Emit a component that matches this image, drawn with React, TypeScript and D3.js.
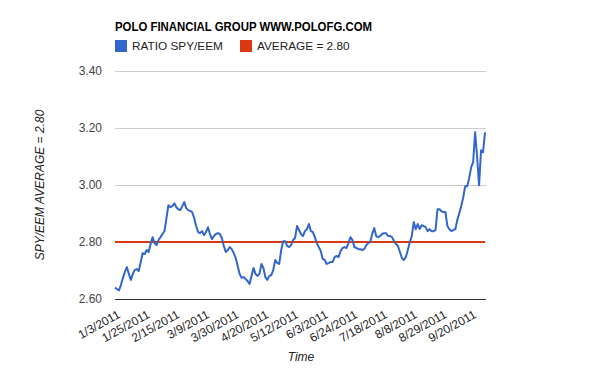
import { useEffect, useRef } from 'react';
import * as d3 from 'd3';

// one value per trading day, 1/3/2011 .. 9/29/2011
const ratio = [
  2.640, 2.635, 2.630, 2.649, 2.674, 2.695, 2.712, 2.688, 2.667, 2.688,
  2.702, 2.705, 2.698, 2.730, 2.761, 2.758, 2.772, 2.765, 2.793, 2.817,
  2.796, 2.789, 2.807, 2.817, 2.828, 2.838, 2.884, 2.929, 2.922, 2.926,
  2.936, 2.922, 2.915, 2.912, 2.926, 2.940, 2.919, 2.912, 2.909, 2.905,
  2.884, 2.856, 2.835, 2.831, 2.838, 2.824, 2.835, 2.852, 2.828, 2.810,
  2.821, 2.828, 2.831, 2.828, 2.814, 2.786, 2.765, 2.772, 2.782, 2.775,
  2.761, 2.744, 2.716, 2.688, 2.674, 2.677, 2.670, 2.663, 2.653, 2.681,
  2.709, 2.688, 2.681, 2.688, 2.723, 2.709, 2.677, 2.667, 2.681, 2.684,
  2.702, 2.737, 2.726, 2.723, 2.772, 2.803, 2.803, 2.786, 2.782, 2.789,
  2.807, 2.814, 2.856, 2.842, 2.828, 2.821, 2.838, 2.845, 2.863, 2.838,
  2.835, 2.817, 2.796, 2.782, 2.768, 2.740, 2.737, 2.723, 2.726, 2.730,
  2.730, 2.747, 2.751, 2.747, 2.768, 2.779, 2.782, 2.779, 2.796, 2.817,
  2.807, 2.782, 2.779, 2.775, 2.775, 2.772, 2.775, 2.789, 2.796, 2.800,
  2.828, 2.849, 2.821, 2.817, 2.821, 2.828, 2.831, 2.831, 2.821, 2.821,
  2.817, 2.803, 2.793, 2.786, 2.765, 2.744, 2.737, 2.747, 2.772, 2.800,
  2.821, 2.870, 2.845, 2.863, 2.845, 2.859, 2.856, 2.852, 2.838, 2.845,
  2.838, 2.838, 2.842, 2.915, 2.915, 2.908, 2.905, 2.905, 2.856, 2.845,
  2.838, 2.842, 2.845, 2.877, 2.901, 2.926, 2.957, 2.996, 2.996, 3.024,
  3.062, 3.080, 3.185, 3.100, 2.999, 3.122, 3.115, 3.185,
];

const average = 2.8;

// every 15th trading day is labelled
const tickLabels = [
  '1/3/2011', '1/25/2011', '2/15/2011', '3/9/2011', '3/30/2011', '4/20/2011', '5/12/2011',
  '6/3/2011', '6/24/2011', '7/18/2011', '8/8/2011', '8/29/2011', '9/20/2011',
];
const tickStep = 15;

const yTicks = [2.6, 2.8, 3.0, 3.2, 3.4];

const font = 'Arial, "Liberation Sans", sans-serif';

export default function App() {
  const ref = useRef<SVGSVGElement | null>(null);

  useEffect(() => {
    if (!ref.current) return;
    const svg = d3.select(ref.current);
    svg.selectAll('*').remove();

    const left = 115;
    const right = 486;
    const top = 71;
    const bottom = 299;

    const x = d3.scaleLinear().domain([0, ratio.length - 1]).range([left, right - 1]);
    const y = d3.scaleLinear().domain([2.6, 3.4]).range([bottom, top]);

    // title + legend
    svg.append('text')
      .attr('x', 115).attr('y', 31)
      .attr('font-family', font).attr('font-size', 12).attr('font-weight', 'bold')
      .attr('textLength', 257).attr('lengthAdjust', 'spacingAndGlyphs')
      .attr('fill', '#000')
      .text('POLO FINANCIAL GROUP WWW.POLOFG.COM');

    const legend = [
      { label: 'RATIO SPY/EEM', color: '#3366cc', x: 115 },
      { label: 'AVERAGE = 2.80', color: '#dc3912', x: 240 },
    ];
    legend.forEach(l => {
      svg.append('rect').attr('x', l.x).attr('y', 40).attr('width', 12).attr('height', 12).attr('fill', l.color);
      svg.append('text')
        .attr('x', l.x + 17).attr('y', 50)
        .attr('font-family', font).attr('font-size', 11.8).attr('fill', '#222')
        .text(l.label);
    });

    // gridlines
    svg.append('g')
      .selectAll('line')
      .data(yTicks.filter(t => t > 2.6))
      .enter()
      .append('line')
      .attr('x1', left).attr('x2', right)
      .attr('y1', d => Math.round(y(d)) + 0.5).attr('y2', d => Math.round(y(d)) + 0.5)
      .attr('stroke', '#cccccc');

    svg.append('g')
      .selectAll('text')
      .data(yTicks)
      .enter()
      .append('text')
      .attr('x', 102).attr('y', d => y(d) + 4)
      .attr('text-anchor', 'end')
      .attr('font-family', font).attr('font-size', 12).attr('fill', '#444')
      .text(d => d3.format('.2f')(d));

    // baseline
    svg.append('line')
      .attr('x1', left).attr('x2', right)
      .attr('y1', Math.round(y(2.6)) + 0.5).attr('y2', Math.round(y(2.6)) + 0.5)
      .attr('stroke', '#333');

    // x labels
    svg.append('g')
      .selectAll('text')
      .data(tickLabels)
      .enter()
      .append('text')
      .attr('transform', (_, i) => `translate(${x(i * tickStep) + 6},${317}) rotate(-29)`)
      .attr('text-anchor', 'end')
      .attr('font-family', font).attr('font-size', 12).attr('fill', '#222')
      .text(d => d);

    // average line
    const avgLine = d3.line<number>()
      .x((_, i) => x(i))
      .y(() => y(average));
    svg.append('path')
      .datum(ratio)
      .attr('d', avgLine)
      .attr('fill', 'none')
      .attr('stroke', '#dc3912')
      .attr('stroke-width', 2);

    const line = d3.line<number>()
      .x((_, i) => x(i))
      .y(d => y(d));
    svg.append('path')
      .datum(ratio)
      .attr('d', line)
      .attr('fill', 'none')
      .attr('stroke', '#3366cc')
      .attr('stroke-width', 2)
      .attr('stroke-linejoin', 'round');

    // axis titles
    svg.append('text')
      .attr('transform', 'translate(44,185) rotate(-90)')
      .attr('text-anchor', 'middle')
      .attr('font-family', font).attr('font-size', 12).attr('font-style', 'italic').attr('fill', '#222')
      .text('SPY/EEM AVERAGE = 2.80');

    svg.append('text')
      .attr('x', 301).attr('y', 361)
      .attr('text-anchor', 'middle')
      .attr('font-family', font).attr('font-size', 12).attr('font-style', 'italic').attr('fill', '#222')
      .text('Time');
  }, []);

  return (
    <svg
      ref={ref}
      width={600}
      height={371}
      style={{ position: 'absolute', left: 0, top: 0, background: '#fff' }}
    />
  );
}
